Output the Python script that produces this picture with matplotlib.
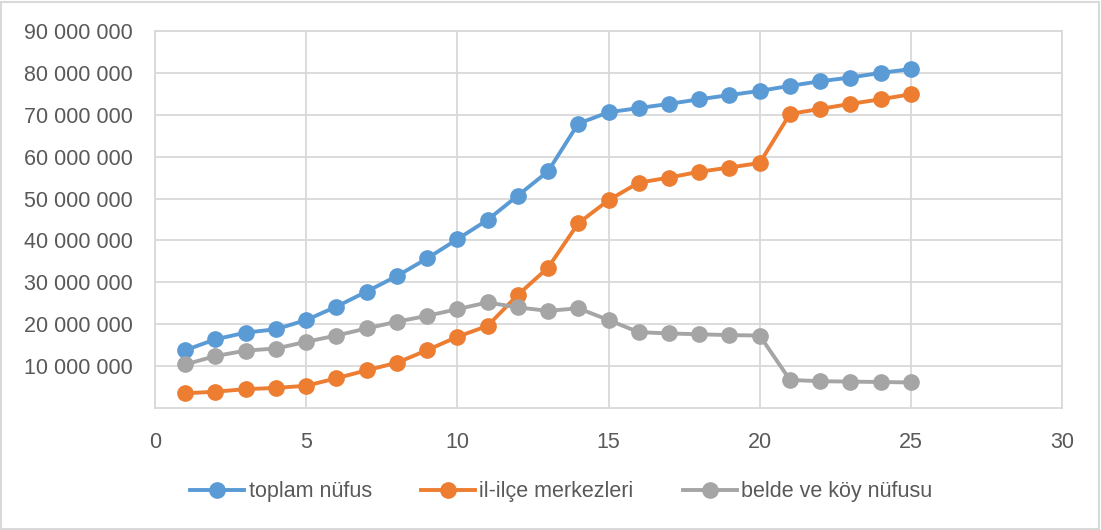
import matplotlib.pyplot as plt
from matplotlib.patches import Rectangle
from matplotlib.ticker import FuncFormatter

plt.rcParams["font.family"] = ["Liberation Sans", "DejaVu Sans"]

yil = list(range(1, 26))
toplam = [13.8, 16.4, 18.0, 18.8, 21.0, 24.2, 27.8, 31.5, 35.7, 40.3,
          44.9, 50.7, 56.5, 67.9, 70.6, 71.6, 72.6, 73.7, 74.7, 75.7,
          76.9, 78.0, 78.9, 80.0, 80.9]
merkez = [3.5, 3.9, 4.5, 4.8, 5.3, 7.1, 9.0, 10.8, 13.8, 17.0,
          19.6, 27.0, 33.5, 44.1, 49.6, 53.8, 55.0, 56.4, 57.4, 58.5,
          70.2, 71.4, 72.6, 73.7, 74.9]
belde_koy = [10.4, 12.4, 13.7, 14.2, 15.8, 17.3, 19.0, 20.6, 22.0, 23.6,
             25.2, 24.0, 23.2, 23.8, 21.0, 18.1, 17.8, 17.6, 17.4, 17.3,
             6.7, 6.4, 6.3, 6.2, 6.1]
seriler = [("toplam nüfus", toplam, "#5B9BD5"),
           ("il-ilçe merkezleri", merkez, "#ED7D31"),
           ("belde ve köy nüfusu", belde_koy, "#A5A5A5")]

fig = plt.figure(figsize=(11.01, 5.30), dpi=100)
ax = fig.add_axes([0.1408, 0.2302, 0.8238, 0.7113])

for ad, deger, renk in seriler:
    ax.plot(yil, [v * 1e6 for v in deger], color=renk, lw=2.8,
            marker="o", markersize=11, label=ad)

ax.set_xlim(0, 30)
ax.set_ylim(0, 90e6)
ax.set_xticks(range(0, 31, 5))
ax.set_yticks([i * 1e7 for i in range(1, 10)])
ax.yaxis.set_major_formatter(FuncFormatter(lambda v, p: f"{int(v):,}".replace(",", " ")))
ax.grid(True, color="#D9D9D9", lw=1.3)
ax.set_axisbelow(True)
for s in ax.spines.values():
    s.set_color("#D9D9D9")
    s.set_linewidth(1.3)
ax.tick_params(length=0, labelsize=15.5, colors="#595959")
ax.tick_params(axis="y", pad=16)
ax.tick_params(axis="x", pad=17)

fig.legend(loc="center", bbox_to_anchor=(0.51, 0.072), ncol=3, frameon=False,
           fontsize=15.5, labelcolor="#595959", handlelength=2.5,
           handletextpad=0.2, columnspacing=2.3)

fig.patches.append(Rectangle((0.001, 0.002), 0.997, 0.995, transform=fig.transFigure,
                             fill=False, edgecolor="#D9D9D9", lw=1.5))

fig.savefig("out.png", dpi=100)
